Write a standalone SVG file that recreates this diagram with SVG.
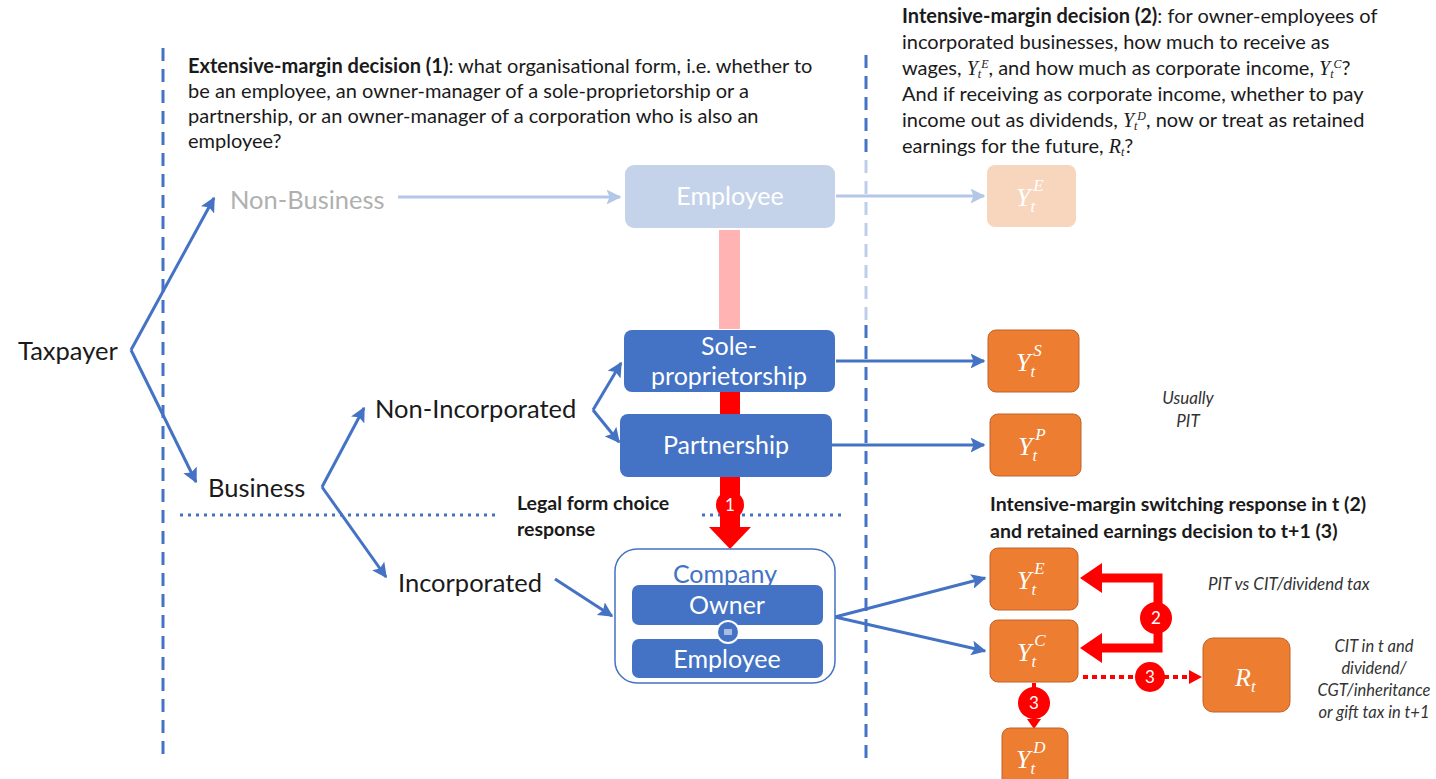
<svg xmlns="http://www.w3.org/2000/svg" width="1436" height="779" viewBox="0 0 1436 779">
<defs>
<style>
text{font-family:Lato,"Open Sans","Liberation Sans",sans-serif}
.lbl{font-size:25.5px;fill:#1a1a1a}
.note{font-size:20px;fill:#1a1a1a}
.b{font-weight:bold}
.bl{font-size:19.5px;font-weight:bold;fill:#1a1a1a}
.it{font-style:italic;font-size:17px;fill:#333}
.it2{font-style:italic;font-size:16.5px;fill:#333;text-anchor:middle}
.wt{fill:#fff;font-size:25px;text-anchor:middle}
.math{font-family:"Liberation Serif","DejaVu Serif",serif;font-style:italic}
.sm{font-size:12px}
.blue{fill:#4472c4}
.orange{fill:#ed7d31;stroke:#c0632a;stroke-width:1}
.conn{stroke:#4472c4;stroke-width:3;fill:none}
.lconn{stroke:#b4c7e7;stroke-width:3;fill:none}
.dash{stroke:#4472c4;stroke-width:3;stroke-dasharray:13 8;fill:none}
.dot{stroke:#4472c4;stroke-width:3;stroke-dasharray:3 5;fill:none}
.circ{fill:#ff0000}
.ctext{fill:#fff;font-size:17px;text-anchor:middle}
</style>
<marker id="ah" viewBox="0 0 10 10" refX="9" refY="5" markerWidth="5" markerHeight="5" orient="auto" markerUnits="strokeWidth"><path d="M0,0 L10,5 L0,10 L2,5 z" fill="#4472c4"/></marker>
<marker id="ahl" viewBox="0 0 10 10" refX="9" refY="5" markerWidth="5" markerHeight="5" orient="auto" markerUnits="strokeWidth"><path d="M0,0 L10,5 L0,10 L2,5 z" fill="#b4c7e7"/></marker>
</defs>

<!-- guide lines -->
<g id="guides">
<line class="dash" x1="163" y1="48" x2="163" y2="762"/>
<line class="dash" x1="866" y1="55" x2="866" y2="160"/>
<line class="dash" x1="866" y1="160" x2="866" y2="325" stroke-opacity="0.35"/>
<line class="dash" x1="866" y1="325" x2="866" y2="762"/>
<line class="dot" x1="180" y1="515" x2="500" y2="515"/>
<line class="dot" x1="702" y1="515" x2="846" y2="515"/>
</g>

<!-- texts -->
<g id="extensive-note">
<text class="note" x="188" y="73"><tspan class="b">Extensive-margin decision (1)</tspan>: what organisational form, i.e. whether to</text>
<text class="note" x="188" y="98">be an employee,  an owner-manager  of a sole-proprietorship  or a</text>
<text class="note" x="188" y="123">partnership, or an owner-manager  of a corporation who is also an</text>
<text class="note" x="188" y="148">employee?</text>
</g>
<g id="intensive-note">
<text class="note" x="902" y="23"><tspan class="b">Intensive-margin decision (2)</tspan>: for owner-employees  of</text>
<text class="note" x="902" y="49">incorporated businesses, how much to receive as</text>
<text class="note" x="902" y="75">wages, <tspan class="math">Y</tspan><tspan class="math sm" dy="3">t</tspan><tspan class="math sm" dy="-10">E</tspan><tspan dy="7">, and how much as corporate income, </tspan><tspan class="math">Y</tspan><tspan class="math sm" dy="3">t</tspan><tspan class="math sm" dy="-10">C</tspan><tspan dy="7">?</tspan></text>
<text class="note" x="902" y="101">And if receiving as corporate income, whether to pay</text>
<text class="note" x="902" y="127">income out as dividends, <tspan class="math">Y</tspan><tspan class="math sm" dy="3">t</tspan><tspan class="math sm" dy="-10">D</tspan><tspan dy="7">, now or treat as retained</tspan></text>
<text class="note" x="902" y="153">earnings for the future, <tspan class="math">R</tspan><tspan class="math sm" dy="3">t</tspan><tspan dy="-3">?</tspan></text>
</g>

<!-- connectors -->
<g id="connectors">
<path class="conn" d="M131,350 L214,198" marker-end="url(#ah)"/>
<path class="conn" d="M131,350 L196,482" marker-end="url(#ah)"/>
<path class="lconn" d="M398,197 L620,197" marker-end="url(#ahl)"/>
<path class="lconn" d="M836,196 L984,196" marker-end="url(#ahl)"/>
<path class="conn" d="M322,487 L364,408" marker-end="url(#ah)"/>
<path class="conn" d="M322,487 L386,577" marker-end="url(#ah)"/>
<path class="conn" d="M593,410 L621,363" marker-end="url(#ah)"/>
<path class="conn" d="M593,410 L619,442" marker-end="url(#ah)"/>
<path class="conn" d="M836,361 L984,361" marker-end="url(#ah)"/>
<path class="conn" d="M832,445 L984,445" marker-end="url(#ah)"/>
<path class="conn" d="M555,579 L612,616" marker-end="url(#ah)"/>
<path class="conn" d="M835,617 L985,578" marker-end="url(#ah)"/>
<path class="conn" d="M835,617 L985,651" marker-end="url(#ah)"/>
<!-- pink/red legal form bar -->
<rect x="719" y="230" width="21" height="99" fill="#ffb3b3"/>
<rect x="720" y="392" width="20" height="22" fill="#ff0000"/>
<rect x="720" y="477" width="20" height="52" fill="#ff0000"/>
<polygon points="709,527 751,527 730,549" fill="#ff0000"/>
<!-- switching elbow -->
<path d="M1100,578 L1158,578 L1158,648 L1100,648" stroke="#ff0000" stroke-width="9" fill="none"/>
<polygon points="1080,578 1102,563 1102,593" fill="#ff0000"/>
<polygon points="1080,648 1102,633 1102,663" fill="#ff0000"/>
<!-- retained earnings dotted -->
<path d="M1083,677 L1192,677" stroke="#ff0000" stroke-width="4" stroke-dasharray="5 4" fill="none"/>
<polygon points="1202,677 1189,670 1189,684" fill="#ff0000"/>
<!-- dividend down -->
<line x1="1034" y1="683" x2="1034" y2="722" stroke="#ff0000" stroke-width="4"/>
<polygon points="1027,719 1041,719 1034,729" fill="#ff0000"/>
</g>

<g id="badge-1"><circle class="circ" cx="730" cy="505" r="14"/><text class="ctext" x="730" y="511">1</text></g>
<g id="badge-2"><circle class="circ" cx="1156" cy="618" r="16"/><text class="ctext" x="1156" y="624">2</text></g>
<g id="badge-3a"><circle class="circ" cx="1150" cy="677" r="15"/><text class="ctext" x="1150" y="683">3</text></g>
<g id="badge-3b"><circle class="circ" cx="1034" cy="703" r="16"/><text class="ctext" x="1034" y="709">3</text></g>

<!-- nodes -->
<g id="taxpayer"><text class="lbl" x="18" y="360">Taxpayer</text></g>
<g id="non-business"><text class="lbl" x="230" y="209" style="fill:#b0b0b0">Non-Business</text></g>
<g id="business"><text class="lbl" x="208" y="497">Business</text></g>
<g id="non-incorporated"><text class="lbl" x="375" y="418">Non-Incorporated</text></g>
<g id="incorporated"><text class="lbl" x="398" y="592">Incorporated</text></g>

<g id="employee"><rect x="625" y="165" width="210" height="63" rx="9" fill="#c5d3ea"/><text class="wt" x="730" y="205">Employee</text></g>
<g id="yte-top"><rect x="987" y="165" width="89" height="62" rx="8" fill="#f8d6be"/><text class="math" x="1016" y="206" fill="#fff" font-size="26">Y<tspan font-size="17" dy="6">t</tspan><tspan font-size="17" dx="-2" dy="-21">E</tspan></text></g>

<g id="sole-prop"><rect x="624" y="330" width="211" height="62" rx="8" class="blue"/><text class="wt" x="729" y="355">Sole-</text><text class="wt" x="729" y="385">proprietorship</text></g>
<g id="partnership"><rect x="620" y="414" width="212" height="63" rx="8" class="blue"/><text class="wt" x="726" y="454">Partnership</text></g>

<g id="yts"><rect x="988" y="330" width="91" height="62" rx="8" class="orange"/><text class="math" x="1016" y="371" fill="#fff" font-size="26">Y<tspan font-size="17" dy="6">t</tspan><tspan font-size="17" dx="-2" dy="-21">S</tspan></text></g>
<g id="ytp"><rect x="990" y="414" width="91" height="62" rx="8" class="orange"/><text class="math" x="1018" y="455" fill="#fff" font-size="26">Y<tspan font-size="17" dy="6">t</tspan><tspan font-size="17" dx="-2" dy="-21">P</tspan></text></g>

<g id="legal-form-label"><text class="bl" x="517" y="510">Legal form choice</text><text class="bl" x="517" y="536">response</text></g>

<g id="company">
<rect x="615" y="549" width="220" height="134" rx="22" fill="#fff" stroke="#4472c4" stroke-width="1.5"/>
<text x="725" y="583" text-anchor="middle" font-size="25" fill="#4472c4">Company</text>
<rect x="632" y="585" width="191" height="40" rx="7" class="blue"/>
<text class="wt" x="727" y="614">Owner</text>
<rect x="632" y="639" width="191" height="39" rx="7" class="blue"/>
<text class="wt" x="727" y="668">Employee</text>
<circle cx="728" cy="632" r="11" fill="#4472c4" stroke="#fff" stroke-width="2"/>
<rect x="724" y="629" width="8" height="6" fill="#a9bde3"/>
</g>

<g id="switch-label"><text class="bl" x="990" y="511">Intensive-margin switching response in t (2)</text><text class="bl" x="990" y="538">and retained earnings decision to t+1 (3)</text></g>

<g id="yte"><rect x="990" y="548" width="88" height="62" rx="8" class="orange"/><text class="math" x="1017" y="589" fill="#fff" font-size="26">Y<tspan font-size="17" dy="6">t</tspan><tspan font-size="17" dx="-2" dy="-21">E</tspan></text></g>
<g id="ytc"><rect x="990" y="620" width="88" height="62" rx="8" class="orange"/><text class="math" x="1017" y="661" fill="#fff" font-size="26">Y<tspan font-size="17" dy="6">t</tspan><tspan font-size="17" dx="-2" dy="-21">C</tspan></text></g>
<g id="rt"><rect x="1203" y="638" width="87" height="74" rx="10" class="orange"/><text class="math" x="1235" y="686" fill="#fff" font-size="26">R<tspan font-size="17" dy="6">t</tspan></text></g>
<g id="ytd"><rect x="1002" y="728" width="66" height="60" rx="8" class="orange"/><text class="math" x="1016" y="768" fill="#fff" font-size="26">Y<tspan font-size="17" dy="6">t</tspan><tspan font-size="17" dx="-2" dy="-21">D</tspan></text></g>

<g id="tax-notes">
<text class="it" x="1188" y="404" text-anchor="middle">Usually</text>
<text class="it" x="1188" y="427" text-anchor="middle">PIT</text>
<text class="it" x="1208" y="590">PIT vs CIT/dividend tax</text>
<text class="it2" x="1374" y="652">CIT in t and</text>
<text class="it2" x="1374" y="674">dividend/</text>
<text class="it2" x="1374" y="696">CGT/inheritance</text>
<text class="it2" x="1374" y="718">or gift tax in t+1</text>
</g>
</svg>
